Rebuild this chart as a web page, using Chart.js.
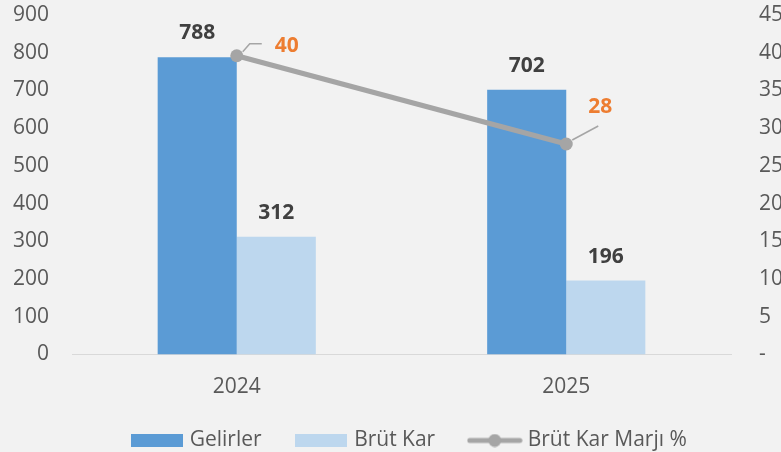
<!DOCTYPE html>
<html>
<head>
<meta charset="utf-8">
<script src="https://cdn.jsdelivr.net/npm/chart.js@4.4.1/dist/chart.umd.min.js"></script>
<style>
  html, body { margin: 0; padding: 0; background: #f2f2f2; overflow: hidden; }
</style>
</head>
<body>
<canvas id="chart" width="781" height="452"></canvas>
<script>
const years = ['2024', '2025'];
const gelirler = [788, 702];
const brutKar = [312, 196];
const brutKarMarji = [39.6, 27.9];
const marjiLabels = ['40', '28'];

const FONT = '"Open Sans", "Noto Sans", sans-serif';

function boxImage(color) {
    const c = document.createElement('canvas');
    c.width = 52;
    c.height = 13;
    const g = c.getContext('2d');
    g.fillStyle = color;
    g.fillRect(0, 0, 52, 13);
    return c;
}

function lineImage() {
    const c = document.createElement('canvas');
    c.width = 56;
    c.height = 14;
    const g = c.getContext('2d');
    g.strokeStyle = '#a5a5a5';
    g.lineWidth = 5;
    g.lineCap = 'round';
    g.beginPath();
    g.moveTo(3, 7);
    g.lineTo(53, 7);
    g.stroke();
    g.fillStyle = '#a5a5a5';
    g.beginPath();
    g.arc(28, 7, 6.5, 0, Math.PI * 2);
    g.fill();
    return c;
}

// labels above bars and on the margin line
const valueLabels = {
    id: 'valueLabels',
    afterLayout(chart) {
        // the original legend sits a bit right of centre
        chart.legend.left += 20;
        chart.legend.right += 20;
    },
    afterDatasetsDraw(chart) {
        const ctx = chart.ctx;
        ctx.save();
        ctx.font = 'bold 21px ' + FONT;
        ctx.textAlign = 'center';
        ctx.textBaseline = 'middle';
        ctx.fillStyle = '#404040';
        [0, 1].forEach(function (di) {
            chart.getDatasetMeta(di).data.forEach(function (bar, i) {
                ctx.fillText(chart.data.datasets[di].data[i], bar.x, bar.y - 24);
            });
        });

        const pts = chart.getDatasetMeta(2).data;
        // leader lines
        ctx.strokeStyle = '#a5a5a5';
        ctx.lineWidth = 1.5;
        let p = pts[0];
        ctx.beginPath();
        ctx.moveTo(p.x + 6, p.y - 4);
        ctx.lineTo(p.x + 13, p.y - 12);
        ctx.lineTo(p.x + 25, p.y - 12);
        ctx.stroke();
        p = pts[1];
        ctx.beginPath();
        ctx.moveTo(p.x + 6, p.y - 4);
        ctx.lineTo(p.x + 32, p.y - 18);
        ctx.stroke();

        ctx.fillStyle = '#ed7d31';
        ctx.fillText(marjiLabels[0], pts[0].x + 50, pts[0].y - 10);
        ctx.fillText(marjiLabels[1], pts[1].x + 34, pts[1].y - 37);
        ctx.restore();
    }
};

const ctx = document.getElementById('chart').getContext('2d');

new Chart(ctx, {
    type: 'bar',
    data: {
        labels: years,
        datasets: [
            {
                label: 'Gelirler',
                data: gelirler,
                backgroundColor: '#5b9bd5',
                categoryPercentage: 0.48,
                barPercentage: 1,
                yAxisID: 'y',
                order: 1
            },
            {
                label: 'Brüt Kar',
                data: brutKar,
                backgroundColor: '#bdd7ee',
                categoryPercentage: 0.48,
                barPercentage: 1,
                yAxisID: 'y',
                order: 1
            },
            {
                type: 'line',
                label: 'Brüt Kar Marjı %',
                data: brutKarMarji,
                borderColor: '#a5a5a5',
                borderWidth: 5,
                pointRadius: 6.5,
                pointBackgroundColor: '#a5a5a5',
                pointBorderWidth: 0,
                yAxisID: 'y1',
                order: 0
            }
        ]
    },
    options: {
        responsive: false,
        animation: false,
        layout: {
            padding: { left: 0, top: 15, right: 0, bottom: -9 }
        },
        plugins: {
            tooltip: { enabled: false },
            legend: {
                position: 'bottom',
                labels: {
                    color: '#595959',
                    font: { family: FONT, size: 21 },
                    usePointStyle: true,
                    pointStyleWidth: 45,
                    padding: 37,
                    generateLabels: function (chart) {
                        const imgs = [boxImage('#5b9bd5'), boxImage('#bdd7ee'), lineImage()];
                        return chart.data.datasets.map(function (ds, i) {
                            return {
                                text: ds.label,
                                pointStyle: imgs[i],
                                fontColor: '#595959',
                                lineWidth: 0,
                                datasetIndex: i
                            };
                        });
                    }
                }
            }
        },
        scales: {
            x: {
                grid: { display: false, drawTicks: false },
                border: { display: true, color: '#d9d9d9', width: 1 },
                ticks: {
                    color: '#595959',
                    font: { family: FONT, size: 21 },
                    padding: 20
                },
                afterFit: function (scale) { scale.height = 38.5; }
            },
            y: {
                position: 'left',
                min: 0,
                max: 900,
                // tick marks are hidden with the grid; their length keeps the labels off the plot
                grid: { display: false, drawTicks: true, tickLength: 23 },
                border: { display: false },
                ticks: {
                    stepSize: 100,
                    color: '#595959',
                    font: { family: FONT, size: 21 },
                    padding: 0
                },
                afterFit: function (scale) { scale.width = 72; }
            },
            y1: {
                position: 'right',
                min: 0,
                max: 45,
                grid: { display: false, drawTicks: true, tickLength: 28 },
                border: { display: false },
                ticks: {
                    stepSize: 5,
                    color: '#595959',
                    font: { family: FONT, size: 21 },
                    padding: 0,
                    callback: function (v) { return v === 0 ? '-' : v; }
                },
                afterFit: function (scale) { scale.width = 50; }
            }
        }
    },
    plugins: [valueLabels]
});
</script>
</body>
</html>
